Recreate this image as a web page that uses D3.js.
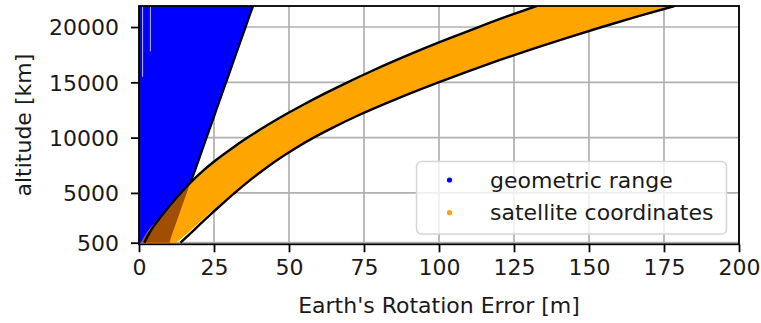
<!DOCTYPE html>
<html>
<head>
<meta charset="UTF-8">
<style>
  html, body { margin: 0; padding: 0; background: #fff; }
  svg { display: block; }
  text { font-family: "DejaVu Sans", sans-serif; fill: #1a1a1a; }
</style>
</head>
<body>
<svg id="chart" width="761" height="323"></svg>
<script src="https://cdn.jsdelivr.net/npm/d3@7"></script>
<script>
// altitude samples [km]
const altitudes = [500, 1000, 2000, 3000, 4000, 5000, 6000, 7000, 8000, 9000, 10000,
  11000, 12000, 13000, 14000, 15000, 16000, 17000, 18000, 19000, 20000, 21000, 21900];

// geometric range: right edge of the blue area [m]
const rangeMax = [10.1, 10.7, 12.0, 13.3, 14.6, 15.9, 17.2, 18.6, 19.9, 21.2, 22.5,
  23.8, 25.1, 26.4, 27.7, 29.0, 30.3, 31.6, 32.9, 34.2, 35.5, 36.8, 38.0];

// satellite coordinates: black bounding curves [m]
const coordLow = [1.8, 2.7, 4.9, 7.7, 10.7, 13.9, 17.4, 21.3, 25.8, 30.8, 36.2,
  42.0, 48.2, 54.9, 62.0, 69.5, 77.4, 85.7, 94.4, 103.6, 113.2, 123.1, 132.5];
const coordHigh = [13.8, 15.8, 19.7, 23.6, 27.7, 31.9, 36.3, 41.1, 46.2, 51.9, 58.2,
  65.3, 73.0, 81.5, 90.4, 99.8, 109.7, 120.1, 131.0, 142.4, 154.3, 166.8, 178.5];

// satellite coordinates: filled point cloud edges [m]
const cloudLow = [0.7, 1.7, 4.3, 7.5, 10.7, 13.9, 17.4, 21.3, 25.8, 30.8, 36.2,
  42.0, 48.2, 54.9, 62.0, 69.5, 77.4, 85.7, 94.4, 103.6, 113.2, 123.1, 132.5];
const cloudHigh = [12.2, 14.6, 18.8, 22.8, 27.0, 31.4, 36.0, 41.1, 46.2, 51.9, 58.2,
  65.3, 73.0, 81.5, 90.4, 99.8, 109.7, 120.1, 131.0, 142.4, 154.3, 166.8, 178.5];

// thin gaps in the blue point cloud near the top
const gapX = [1.2, 3.8];
const gapBottom = [15500, 17800];

const xTicks = [0, 25, 50, 75, 100, 125, 150, 175, 200];
const yTicks = [500, 5000, 10000, 15000, 20000];
const legendLabels = ["geometric range", "satellite coordinates"];
const legendColors = ["#0000ff", "#ffa500"];

const svg = d3.select("#chart");
const pL = 139, pR = 739, pT = 6, pB = 244.3;

const x = d3.scaleLinear().domain([0, 200]).range([pL, pR]);
const y = d3.scaleLinear().domain([355, 21900]).range([pB, pT]);

const defs = svg.append("defs");
defs.append("clipPath").attr("id", "plot")
  .append("rect").attr("x", pL).attr("y", pT)
  .attr("width", pR - pL).attr("height", pB - pT);

// grid
const grid = svg.append("g").attr("stroke", "#b0b0b0").attr("stroke-width", 1.7);
grid.selectAll(".gx").data(xTicks).join("line").attr("class", "gx")
  .attr("x1", d => x(d)).attr("x2", d => x(d)).attr("y1", pT).attr("y2", pB);
grid.selectAll(".gy").data(yTicks).join("line").attr("class", "gy")
  .attr("x1", pL).attr("x2", pR).attr("y1", d => y(d)).attr("y2", d => y(d));

const rows = altitudes.map((h, i) => ({
  h, rMax: rangeMax[i], lo: coordLow[i], hi: coordHigh[i], cLo: cloudLow[i], cHi: cloudHigh[i]
}));

const plot = svg.append("g").attr("clip-path", "url(#plot)");
const curve = d3.curveMonotoneY;

const blueArea = d3.area().curve(curve).y(d => y(d.h)).x0(x(0)).x1(d => x(d.rMax));
const cloudArea = d3.area().curve(curve).y(d => y(d.h)).x0(d => x(d.cLo)).x1(d => x(d.cHi));

// blue area extends past the top of the plot
const blueRows = rows.concat([{ h: 23000, rMax: 39.5 }]);
plot.append("path").attr("d", blueArea(blueRows)).attr("fill", "#0000ff");

plot.selectAll(".gap").data(gapX).join("line").attr("class", "gap")
  .attr("x1", d => x(d)).attr("x2", d => x(d))
  .attr("y1", pT).attr("y2", (d, i) => y(gapBottom[i]))
  .attr("stroke", "#b8b8ff").attr("stroke-width", 1);

plot.append("path")
  .attr("d", d3.line().curve(curve).x(d => x(d.rMax)).y(d => y(d.h))(blueRows))
  .attr("fill", "none").attr("stroke", "#000").attr("stroke-width", 2.4);

plot.append("path").attr("d", cloudArea(rows)).attr("fill", "#ffa500");

// overlap of the two point clouds
defs.append("clipPath").attr("id", "blueclip")
  .append("path").attr("d", blueArea(blueRows));
plot.append("g").attr("clip-path", "url(#blueclip)")
  .append("path").attr("d", cloudArea(rows)).attr("fill", "#a14e00");

["lo", "hi"].forEach(k => {
  plot.append("path")
    .attr("d", d3.line().curve(curve).x(d => x(d[k])).y(d => y(d.h))(rows))
    .attr("fill", "none").attr("stroke", "#000").attr("stroke-width", 2.4);
});

// axes
const ax = svg.append("g").attr("transform", `translate(0,${pB})`)
  .call(d3.axisBottom(x).tickValues(xTicks).tickSize(8).tickPadding(7).tickFormat(d3.format("d")));
const ay = svg.append("g").attr("transform", `translate(${pL},0)`)
  .call(d3.axisLeft(y).tickValues(yTicks).tickSize(8).tickPadding(12).tickFormat(d3.format("d")));
[ax, ay].forEach(g => {
  g.select(".domain").remove();
  g.selectAll(".tick line").attr("stroke", "#000").attr("stroke-width", 1.8);
  g.selectAll(".tick text").attr("font-size", 22).attr("fill", "#1a1a1a")
    .attr("font-family", "DejaVu Sans, sans-serif");
});
ay.selectAll(".tick text").attr("dy", "0.36em");

svg.append("rect").attr("x", pL).attr("y", pT)
  .attr("width", pR - pL).attr("height", pB - pT)
  .attr("fill", "none").attr("stroke", "#000").attr("stroke-width", 1.8);

svg.append("text").attr("x", (pL + pR) / 2).attr("y", 313)
  .attr("text-anchor", "middle").attr("font-size", 22).text("Earth's Rotation Error [m]");
svg.append("text").attr("transform", `translate(31,${(pT + pB) / 2}) rotate(-90)`)
  .attr("text-anchor", "middle").attr("font-size", 22).text("altitude [km]");

// legend
const lg = svg.append("g");
lg.append("rect").attr("x", 416.5).attr("y", 161.5).attr("width", 310).attr("height", 72.5)
  .attr("rx", 5).attr("fill", "#fff").attr("fill-opacity", 0.8)
  .attr("stroke", "#d6d6d6").attr("stroke-width", 1.5);
const items = lg.selectAll(".item").data(legendLabels).join("g").attr("class", "item")
  .attr("transform", (d, i) => `translate(449.5,${180 + i * 32.7})`);
items.append("circle").attr("r", 2.6).attr("fill", (d, i) => legendColors[i]);
items.append("text").attr("x", 40.5).attr("y", 7.6).attr("font-size", 22).text(d => d);
</script>
</body>
</html>
